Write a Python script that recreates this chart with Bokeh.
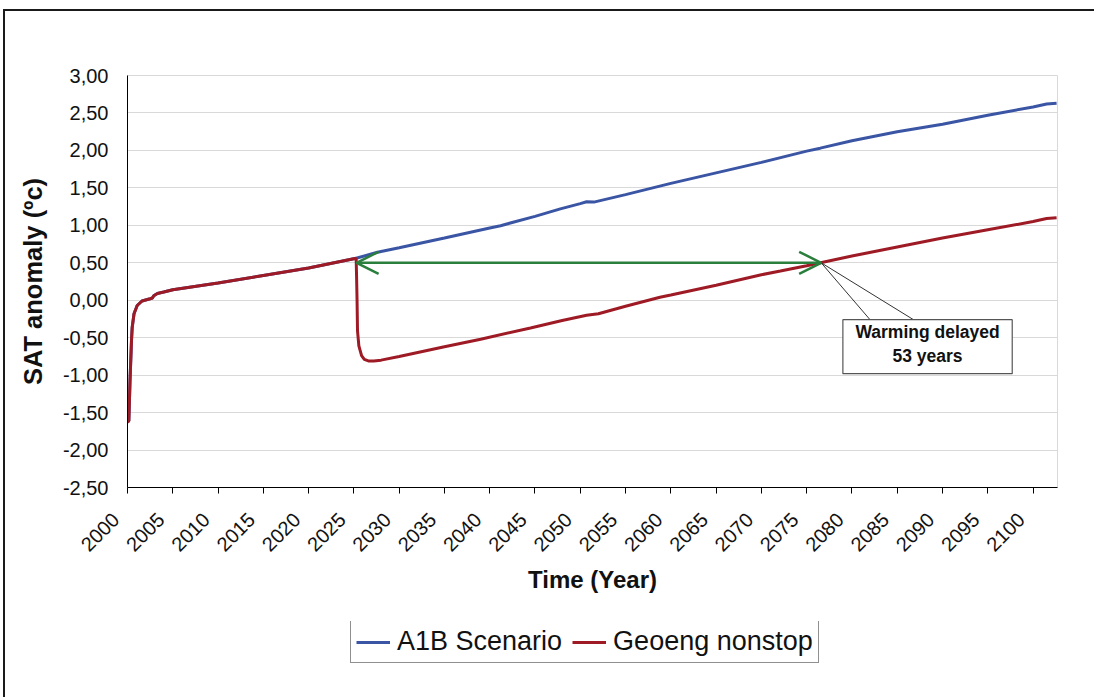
import math
from bokeh.plotting import figure
from bokeh.layouts import column
from bokeh.models import (Range1d, FixedTicker, CustomJSTickFormatter, Legend, LegendItem,
                          Arrow, OpenHead, BoxAnnotation, Label)
from bokeh.embed import file_html
from bokeh.resources import INLINE

# ---------------- data ----------------
shared_years = [2000.0, 2000.15, 2000.28, 2000.44, 2000.52, 2000.72, 2001.07, 2001.6, 2002.5,
                2002.75, 2002.9, 2003.3, 2004.0, 2005.0, 2010.0, 2015.0, 2019.0, 2020.0, 2025.25]
shared_vals = [-1.63, -1.61, -1.07, -0.54, -0.36, -0.18, -0.07, -0.01, 0.02,
               0.03, 0.06, 0.09, 0.11, 0.14, 0.23, 0.33, 0.41, 0.43, 0.56]

a1b_years = [2027.6, 2030, 2035, 2040, 2041.2, 2045, 2047.8, 2050, 2050.7, 2051.5, 2055,
             2060, 2062.5, 2065, 2070, 2075, 2076.5, 2080, 2085, 2090, 2095, 2100, 2101.5,
             2102.6]
a1b_vals = [0.64, 0.70, 0.83, 0.965, 0.995, 1.12, 1.22, 1.29, 1.315, 1.31, 1.41,
            1.56, 1.63, 1.70, 1.84, 1.99, 2.03, 2.13, 2.25, 2.35, 2.47, 2.58, 2.62,
            2.63]

geo_years = [2025.3, 2025.35, 2025.4, 2025.55, 2025.85, 2026.15, 2026.6, 2027.2, 2028, 2030,
             2035, 2039, 2044.5, 2048, 2050.7, 2052, 2055, 2058.8, 2060, 2065, 2070, 2072.1,
             2075, 2080, 2085, 2090, 2095, 2100, 2101.5, 2102.6]
geo_vals = [0.30, 0.0, -0.41, -0.61, -0.74, -0.79, -0.81, -0.81, -0.80, -0.75,
            -0.62, -0.52, -0.37, -0.27, -0.20, -0.18, -0.08, 0.04, 0.07, 0.20, 0.34, 0.39,
            0.46, 0.59, 0.71, 0.83, 0.94, 1.05, 1.09, 1.10]

series_names = ["A1B Scenario", "Geoeng nonstop"]

x_ticks = list(range(2000, 2101, 5))
y_ticks = [-2.5, -2.0, -1.5, -1.0, -0.5, 0.0, 0.5, 1.0, 1.5, 2.0, 2.5, 3.0]

# annotation values (delay arrow at 0.5 degC, callout box)
delay_level = 0.5
delay_start = 2025.3
delay_end = 2076.6
box_left, box_right, box_top, box_bottom = 2079.0, 2097.7, -0.26, -0.98
callout_x = [2082.0, 2086.8]
note_lines = ["Warming delayed", "53 years"]
note_y = [-0.43, -0.74]

FONT = "Liberation Sans"
BLUE = "#3a55a4"
RED = "#9e1b25"
GREEN = "#2b7f3c"

W = 1089
H_MAIN = 610
H_LEG = 76

p = figure(width=W, height=H_MAIN, output_backend="svg", toolbar_location=None,
           x_range=Range1d(2000, 2102.7), y_range=Range1d(-2.5, 3.0),
           min_border_left=122, min_border_right=37, min_border_top=64,
           min_border_bottom=H_MAIN - 476)
p.background_fill_color = "white"
p.border_fill_color = "white"
p.outline_line_color = "#d9d9d9"
p.outline_line_width = 1

p.xgrid.visible = False
p.ygrid.ticker = FixedTicker(ticks=y_ticks)
p.ygrid.grid_line_color = "#d9d9d9"
p.ygrid.grid_line_width = 1

# axes
p.xaxis.ticker = FixedTicker(ticks=x_ticks)
# trailing no-break spaces nudge the rotated labels left of their ticks, as in the original
p.xaxis.formatter = CustomJSTickFormatter(code="return tick.toFixed(0) + '\\u00a0\\u00a0\\u00a0';")
p.xaxis.major_label_orientation = math.pi / 4
p.xaxis.major_tick_out = 6
p.xaxis.major_tick_in = 0
p.xaxis.minor_tick_out = 0
p.xaxis.minor_tick_in = 0
p.xaxis.major_label_standoff = 11
p.xaxis.axis_label = "Time (Year)"
p.xaxis.axis_label_standoff = 0

p.yaxis.ticker = FixedTicker(ticks=y_ticks)
p.yaxis.formatter = CustomJSTickFormatter(code="return tick.toFixed(2).replace('.', ',');")
p.yaxis.major_tick_out = 0
p.yaxis.major_tick_in = 0
p.yaxis.minor_tick_out = 0
p.yaxis.minor_tick_in = 0
p.yaxis.major_label_standoff = 19
p.yaxis.axis_label = "SAT anomaly (ºc)"
p.yaxis.axis_label_standoff = 13

for ax in (p.xaxis, p.yaxis):
    ax.axis_line_color = "black"
    ax.axis_line_width = 1
    ax.major_tick_line_color = "black"
    ax.major_label_text_font = FONT
    ax.major_label_text_font_size = "20px"
    ax.major_label_text_color = "#111111"
    ax.axis_label_text_font = FONT
    ax.axis_label_text_font_style = "bold"
    ax.axis_label_text_color = "#111111"
p.xaxis.axis_label_text_font_size = "24px"
p.yaxis.axis_label_text_font_size = "25.5px"

# lines
p.line(shared_years + a1b_years, shared_vals + a1b_vals, line_color=BLUE, line_width=3)
p.line(shared_years + geo_years, shared_vals + geo_vals, line_color=RED, line_width=3)

# delay arrow
p.add_layout(Arrow(start=OpenHead(size=22, line_color=GREEN, line_width=2.5),
                   end=OpenHead(size=22, line_color=GREEN, line_width=2.5),
                   x_start=delay_start, y_start=delay_level, x_end=delay_end, y_end=delay_level,
                   line_color=GREEN, line_width=2.5))

# callout
p.segment(x0=[delay_end, delay_end], y0=[delay_level, delay_level],
          x1=callout_x, y1=[box_top, box_top], line_color="#333333", line_width=1)
p.add_layout(BoxAnnotation(left=box_left, right=box_right, top=box_top, bottom=box_bottom,
                           fill_color="white", fill_alpha=1.0, line_color="#555555",
                           line_width=1.2, line_alpha=1.0))
for txt, yy in zip(note_lines, note_y):
    p.add_layout(Label(x=(box_left + box_right) / 2, y=yy, text=txt, text_align="center",
                       text_baseline="middle", text_font=FONT, text_font_size="17.5px",
                       text_font_style="bold", text_color="#111111"))

# legend in a strip below the chart; the series are re-drawn there outside its visible range,
# so only their legend swatches show
lg = figure(width=W, height=H_LEG, output_backend="svg", toolbar_location=None,
            x_range=Range1d(0, 1), y_range=Range1d(0, 1),
            min_border_left=122, min_border_right=37, min_border_top=0, min_border_bottom=0)
lg.axis.visible = False
lg.grid.visible = False
lg.outline_line_color = None
lg.background_fill_color = "white"
lg.border_fill_color = "white"
r_blue = lg.line(shared_years + a1b_years, shared_vals + a1b_vals, line_color=BLUE, line_width=3)
r_red = lg.line(shared_years + geo_years, shared_vals + geo_vals, line_color=RED, line_width=3)
legend = Legend(items=[LegendItem(label=series_names[0], renderers=[r_blue]),
                       LegendItem(label=series_names[1], renderers=[r_red])],
                orientation="horizontal", location=(223, 34))
legend.label_text_font = FONT
legend.label_text_font_size = "27px"
legend.label_text_color = "#111111"
legend.glyph_width = 34
legend.glyph_height = 20
legend.label_standoff = 7
legend.spacing = 10
legend.padding = 5
legend.margin = 0
legend.border_line_color = "#222222"
legend.border_line_width = 1.2
legend.background_fill_color = "white"
legend.background_fill_alpha = 1.0
lg.add_layout(legend, "center")

layout = column(p, lg, spacing=0)
layout.styles = {"margin-left": "3px", "margin-top": "9px",
                 "border-left": "2px solid #1a1a1a", "border-top": "2px solid #1a1a1a"}

open("out.html", "w").write(file_html(layout, INLINE))
